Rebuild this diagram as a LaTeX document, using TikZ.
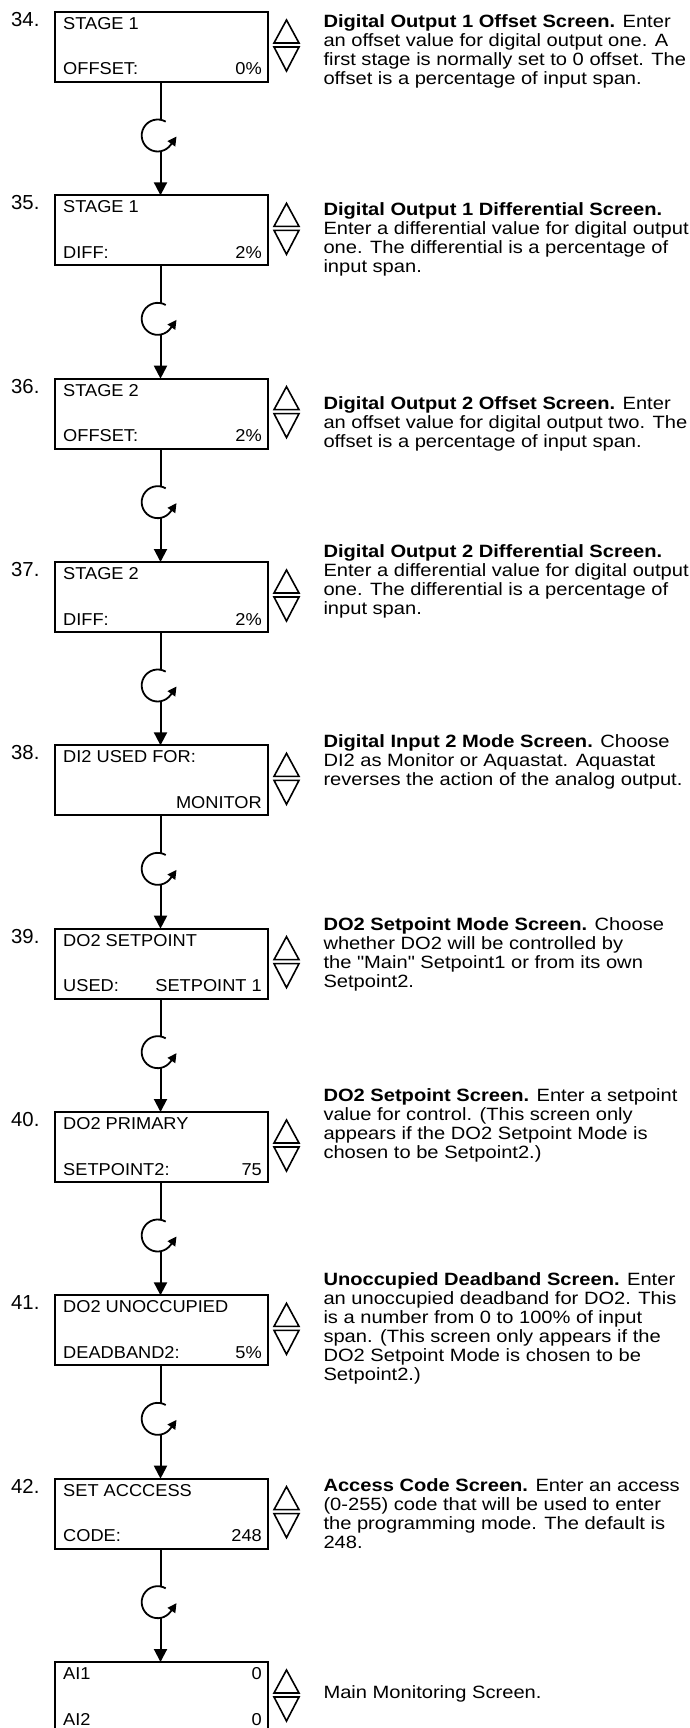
\documentclass[tikz,border=0pt]{standalone}
\usepackage{fontspec}
\setmainfont{Liberation Sans}
\newfontfamily\descfont[FakeStretch=1.13]{Liberation Sans}
\newfontfamily\boxfont[FakeStretch=1.06]{Liberation Sans}
\usetikzlibrary{arrows.meta}
\tikzset{
  screenbox/.style={draw, line width=2pt, minimum width=213.5pt, minimum height=70pt, inner sep=0pt, outer sep=0pt, anchor=north west},
  boxtxt/.style={font=\boxfont\fontsize{17.2}{20}\selectfont, inner sep=0pt},
  numtxt/.style={font=\fontsize{20.3}{22}\selectfont, inner sep=0pt, anchor=base west},
  desctxt/.style={font=\descfont\fontsize{17.8}{19}\selectfont, inner sep=0pt, align=left, anchor=base west},
  conn/.style={line width=2pt},
  tri/.style={line width=1.6pt, line join=miter},
  arrowdown/.style={conn, -{Triangle[length=13pt,width=13pt]}},
  looparc/.style={line width=1.8pt, -{Triangle[length=9pt,width=9pt]}},
}
\newcommand\myscreen[7]{%
  \pgfmathsetmacro\ytop{12+183.333*#2}%
  \node[screenbox] (b#1) at (54.5,\ytop) {};
  \node[numtxt] (n#1) at (11,\ytop+14.5) {#3};
  \node[boxtxt, anchor=base west] (tl#1) at (63,\ytop+17.5) {#4};
  \node[boxtxt, anchor=base east] (tr#1) at (262,\ytop+17.5) {#5};
  \node[boxtxt, anchor=base west] (bl#1) at (63,\ytop+63) {#6};
  \node[boxtxt, anchor=base east] (br#1) at (262,\ytop+63) {#7};
  \draw[tri] (286.5,\ytop+8) -- (299,\ytop+31) -- (274,\ytop+31) -- cycle;
  \draw[tri] (274,\ytop+35) -- (299,\ytop+35) -- (286.5,\ytop+59) -- cycle;
}
\newcommand\myloop[3]{%
  \pgfmathsetmacro\cy{135.5+183.333*#3}%
  \coordinate (lt#3) at (160.5,\cy-15.8);
  \coordinate (lb#3) at (160.5,\cy+15.8);
  \draw[conn] (b#1.south -| lt#3) -- (lt#3);
  \draw[looparc] (157.7,\cy) ++(-60:16) arc[start angle=-60, end angle=-325, radius=16] -- ++(5.7,-8.2);
  \draw[arrowdown] (lb#3) -- (b#2.north -| lb#3);
}
% #1 index, #2 name, #3 baseline offset of first line, #4 number of lines
\newcommand\mydesc[4]{%
  \pgfmathsetmacro\ybase{12+183.333*#1+#3+19*(#4-1)}%
  \node[desctxt] (d#2) at (323.3,\ybase) {\mydesctext};
}
\begin{document}
\begin{tikzpicture}[x=1pt,y=-1pt]
\useasboundingbox (0,0) rectangle (689,1728);
\clip (0,0) rectangle (689,1728);
\myscreen{34}{0}{34.}{STAGE 1}{}{OFFSET:}{0\%}
\myscreen{35}{1}{35.}{STAGE 1}{}{DIFF:}{2\%}
\myscreen{36}{2}{36.}{STAGE 2}{}{OFFSET:}{2\%}
\myscreen{37}{3}{37.}{STAGE 2}{}{DIFF:}{2\%}
\myscreen{38}{4}{38.}{DI2 USED FOR:}{}{}{MONITOR}
\myscreen{39}{5}{39.}{DO2 SETPOINT}{}{USED:}{SETPOINT 1}
\myscreen{40}{6}{40.}{DO2 PRIMARY}{}{SETPOINT2:}{75}
\myscreen{41}{7}{41.}{DO2 UNOCCUPIED}{}{DEADBAND2:}{5\%}
\myscreen{42}{8}{42.}{SET ACCCESS}{}{CODE:}{248}
\myscreen{43}{9}{}{AI1}{0}{AI2}{0}
\myloop{34}{35}{0}
\myloop{35}{36}{1}
\myloop{36}{37}{2}
\myloop{37}{38}{3}
\myloop{38}{39}{4}
\myloop{39}{40}{5}
\myloop{40}{41}{6}
\myloop{41}{42}{7}
\myloop{42}{43}{8}
\def\mydesctext{\textbf{Digital Output 1 Offset Screen.} Enter\\an offset value for digital output one. A\\first stage is normally set to 0 offset. The\\offset is a percentage of input span.}
\mydesc{0}{34}{16}{4}
\def\mydesctext{\textbf{Digital Output 1 Differential Screen.}\\Enter a differential value for digital output\\one. The differential is a percentage of\\input span.}
\mydesc{1}{35}{20.5}{4}
\def\mydesctext{\textbf{Digital Output 2 Offset Screen.} Enter\\an offset value for digital output two. The\\offset is a percentage of input span.}
\mydesc{2}{36}{31}{3}
\def\mydesctext{\textbf{Digital Output 2 Differential Screen.}\\Enter a differential value for digital output\\one. The differential is a percentage of\\input span.}
\mydesc{3}{37}{-5}{4}
\def\mydesctext{\textbf{Digital Input 2 Mode Screen.} Choose\\DI2 as Monitor or Aquastat. Aquastat\\reverses the action of the analog output.}
\mydesc{4}{38}{2.5}{3}
\def\mydesctext{\textbf{DO2 Setpoint Mode Screen.} Choose\\whether DO2 will be controlled by\\the "Main" Setpoint1 or from its own\\Setpoint2.}
\mydesc{5}{39}{1.5}{4}
\def\mydesctext{\textbf{DO2 Setpoint Screen.} Enter a setpoint\\value for control. (This screen only\\appears if the DO2 Setpoint Mode is\\chosen to be Setpoint2.)}
\mydesc{6}{40}{-11}{4}
\def\mydesctext{\textbf{Unoccupied Deadband Screen.} Enter\\an unoccupied deadband for DO2. This\\is a number from 0 to 100\% of input\\span. (This screen only appears if the\\DO2 Setpoint Mode is chosen to be\\Setpoint2.)}
\mydesc{7}{41}{-10}{6}
\def\mydesctext{\textbf{Access Code Screen.} Enter an access\\(0-255) code that will be used to enter\\the programming mode. The default is\\248.}
\mydesc{8}{42}{12.5}{4}
\def\mydesctext{Main Monitoring Screen.}
\mydesc{9}{43}{36}{1}
\end{tikzpicture}
\end{document}
